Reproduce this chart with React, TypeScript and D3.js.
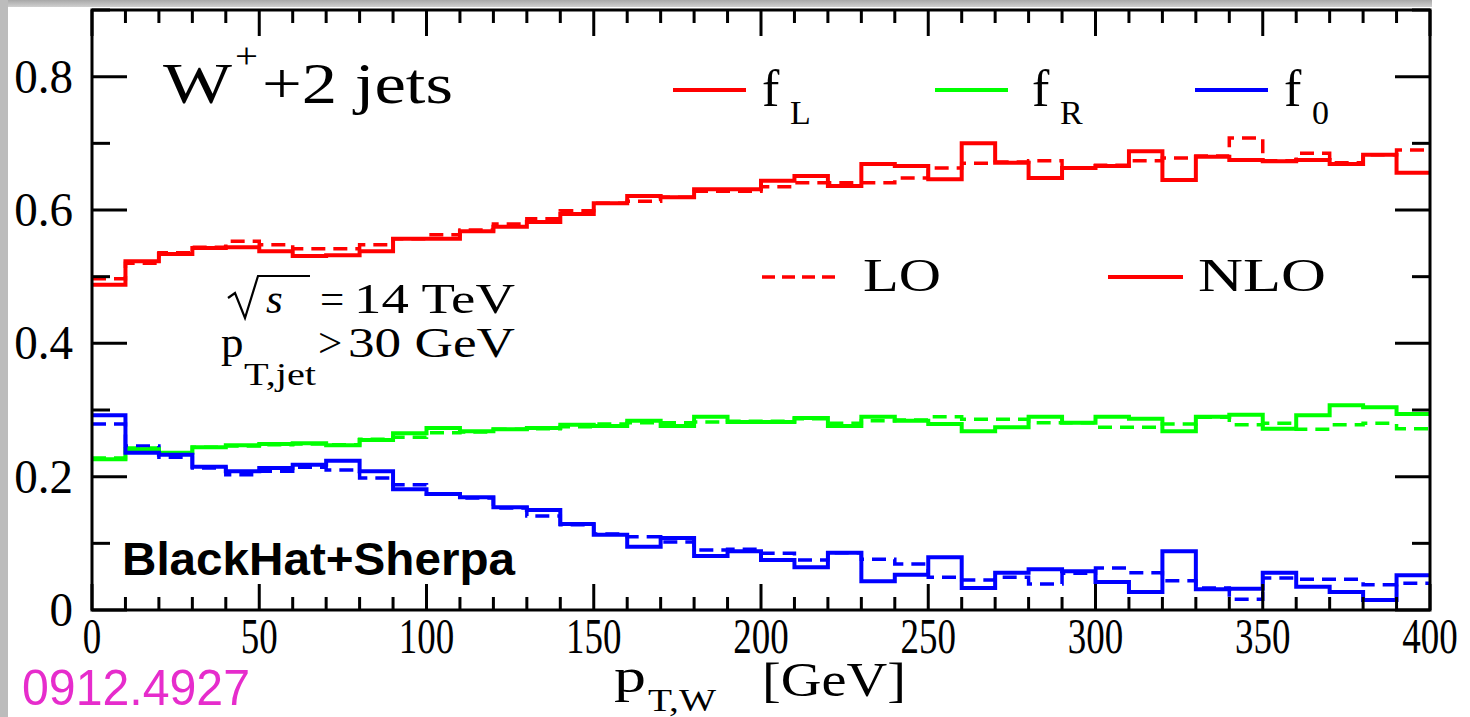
import React from 'react';
import * as d3 from 'd3';

// bin edges: 40 bins of 10 GeV
const binLow = d3.range(0, 400, 10);

const fL_NLO = [0.488, 0.523, 0.534, 0.543, 0.544, 0.538, 0.531, 0.532, 0.538, 0.557, 0.557, 0.568, 0.575, 0.582, 0.594, 0.610, 0.621, 0.619, 0.631, 0.631, 0.644, 0.651, 0.636, 0.669, 0.666, 0.646, 0.700, 0.671, 0.648, 0.663, 0.666, 0.688, 0.645, 0.680, 0.675, 0.673, 0.675, 0.669, 0.683, 0.656];
const fL_LO = [0.497, 0.520, 0.536, 0.544, 0.553, 0.548, 0.542, 0.542, 0.548, 0.557, 0.563, 0.570, 0.579, 0.587, 0.599, 0.610, 0.613, 0.619, 0.628, 0.628, 0.635, 0.641, 0.641, 0.641, 0.648, 0.663, 0.670, 0.672, 0.674, 0.663, 0.667, 0.674, 0.678, 0.681, 0.708, 0.674, 0.685, 0.671, 0.683, 0.690];
const fR_NLO = [0.226, 0.241, 0.236, 0.244, 0.247, 0.249, 0.250, 0.247, 0.255, 0.265, 0.273, 0.268, 0.271, 0.273, 0.278, 0.276, 0.284, 0.276, 0.290, 0.282, 0.282, 0.288, 0.276, 0.290, 0.284, 0.279, 0.268, 0.274, 0.290, 0.281, 0.290, 0.287, 0.268, 0.290, 0.293, 0.272, 0.292, 0.307, 0.304, 0.294];
const fR_LO = [0.228, 0.243, 0.236, 0.244, 0.246, 0.248, 0.249, 0.248, 0.256, 0.259, 0.266, 0.267, 0.271, 0.272, 0.275, 0.279, 0.281, 0.281, 0.282, 0.283, 0.283, 0.287, 0.280, 0.284, 0.285, 0.290, 0.286, 0.286, 0.281, 0.281, 0.274, 0.274, 0.279, 0.289, 0.278, 0.280, 0.271, 0.278, 0.280, 0.272];
const f0_NLO = [0.292, 0.236, 0.233, 0.215, 0.208, 0.213, 0.218, 0.224, 0.208, 0.181, 0.174, 0.169, 0.154, 0.150, 0.129, 0.113, 0.095, 0.108, 0.081, 0.088, 0.075, 0.064, 0.086, 0.043, 0.053, 0.079, 0.033, 0.056, 0.061, 0.058, 0.042, 0.027, 0.088, 0.031, 0.032, 0.056, 0.035, 0.027, 0.015, 0.052];
const f0_LO = [0.279, 0.246, 0.229, 0.213, 0.203, 0.208, 0.214, 0.210, 0.198, 0.188, 0.174, 0.168, 0.153, 0.141, 0.128, 0.114, 0.110, 0.102, 0.090, 0.091, 0.085, 0.075, 0.086, 0.076, 0.069, 0.049, 0.045, 0.049, 0.039, 0.055, 0.063, 0.056, 0.044, 0.033, 0.016, 0.048, 0.046, 0.046, 0.038, 0.040];

const xTickLabels = [0, 50, 100, 150, 200, 250, 300, 350, 400];
const yTickLabels = [0, 0.2, 0.4, 0.6, 0.8];

const RED = '#ff0000';
const GREEN = '#00ff00';
const BLUE = '#0000ff';
const SERIF = '"Liberation Serif", "DejaVu Serif", serif';
const SANS = '"Liberation Sans", Arial, sans-serif';

const W = 1470;
const H = 717;
const left = 92, right = 1430, top = 10, bottom = 610;

export default function App() {
  const x = d3.scaleLinear().domain([0, 400]).range([left, right]);
  const y = d3.scaleLinear().domain([0, 0.9]).range([bottom, top]);

  const line = d3
    .line<[number, number]>()
    .x((d) => x(d[0]))
    .y((d) => y(d[1]))
    .curve(d3.curveStepAfter);

  const hist = (vals: number[]) => {
    const pts: [number, number][] = vals.map((v, i) => [binLow[i], v]);
    pts.push([400, vals[vals.length - 1]]);
    return line(pts) || '';
  };

  const series = [
    { vals: fR_LO, color: GREEN, dash: true },
    { vals: f0_LO, color: BLUE, dash: true },
    { vals: fL_LO, color: RED, dash: true },
    { vals: fR_NLO, color: GREEN, dash: false },
    { vals: f0_NLO, color: BLUE, dash: false },
    { vals: fL_NLO, color: RED, dash: false },
  ];

  const legendTop = [
    { color: RED, lx: 673, fx: 762, sub: 'L' },
    { color: GREEN, lx: 935, fx: 1032, sub: 'R' },
    { color: BLUE, lx: 1195, fx: 1284, sub: '0' },
  ];

  const xMinor = d3.range(0, 401, 10);
  const yMinor = d3.range(0, 0.9001, 0.1);

  return (
    <svg
      width={W}
      height={H}
      style={{ position: 'absolute', left: 0, top: 0, background: '#fff' }}
    >
      <defs>
        <linearGradient id="topband" x1="0" y1="0" x2="0" y2="1">
          <stop offset="0" stopColor="#a8a8a8" />
          <stop offset="1" stopColor="#d0d0d0" />
        </linearGradient>
      </defs>
      <rect x={0} y={0} width={W} height={H} fill="#fff" />
      <rect x={0} y={0} width={1432} height={7} fill="url(#topband)" />
      <rect x={0} y={0} width={8} height={H} fill="#bcbcbc" />

      {/* histograms */}
      <g fill="none" strokeLinejoin="miter">
        {series.map((s, i) => (
          <path
            key={i}
            d={hist(s.vals)}
            stroke={s.color}
            strokeWidth={s.dash ? 3.5 : 4}
            strokeDasharray={s.dash ? '14 8' : undefined}
          />
        ))}
      </g>

      {/* frame and ticks */}
      <g stroke="#000" strokeWidth={3}>
        {xMinor.map((v) => {
          const major = v % 50 === 0;
          const len = major ? 26 : 13;
          return (
            <g key={'xt' + v}>
              <line x1={x(v)} x2={x(v)} y1={bottom} y2={bottom - len} />
              <line x1={x(v)} x2={x(v)} y1={top} y2={top + len} />
            </g>
          );
        })}
        {yMinor.map((v, i) => {
          const major = i % 2 === 0;
          const len = major ? 35 : 18;
          return (
            <g key={'yt' + i}>
              <line x1={left} x2={left + len} y1={y(v)} y2={y(v)} />
              <line x1={right} x2={right - len} y1={y(v)} y2={y(v)} />
            </g>
          );
        })}
        <rect x={left} y={top} width={right - left} height={bottom - top} fill="none" />
      </g>

      {/* tick labels */}
      <g fontFamily={SERIF} fill="#000">
        {xTickLabels.map((v) => (
          <text
            key={'xl' + v}
            transform={`translate(${x(v)},653) scale(0.74,1)`}
            textAnchor="middle"
            fontSize={50}
          >
            {v}
          </text>
        ))}
        {yTickLabels.map((v) => (
          <text
            key={'yl' + v}
            transform={`translate(73,${y(v) + 16}) scale(0.98,1)`}
            textAnchor="end"
            fontSize={48}
          >
            {v === 0 ? '0' : v.toFixed(1)}
          </text>
        ))}
      </g>

      {/* title */}
      <g fontFamily={SERIF} fill="#000">
        <text x={163} y={103} fontSize={57} textLength={69} lengthAdjust="spacingAndGlyphs">W</text>
        <text x={235} y={68} fontSize={36} textLength={23} lengthAdjust="spacingAndGlyphs">+</text>
        <text x={262} y={103} fontSize={57} textLength={191} lengthAdjust="spacingAndGlyphs">+2 jets</text>
      </g>

      {/* legend row 1 */}
      <g fontFamily={SERIF} fill="#000">
        {legendTop.map((l) => (
          <g key={l.sub}>
            <line x1={l.lx} x2={l.lx + 73} y1={90} y2={90} stroke={l.color} strokeWidth={4} />
            <text x={l.fx} y={106} fontSize={52}>f</text>
            <text x={l.fx + 28} y={124} fontSize={34}>{l.sub}</text>
          </g>
        ))}
      </g>

      {/* legend row 2 */}
      <g fontFamily={SERIF} fill="#000">
        <line x1={762} x2={835} y1={277} y2={277} stroke={RED} strokeWidth={3.5} strokeDasharray="13 7" />
        <text x={863} y={291} fontSize={46} textLength={78} lengthAdjust="spacingAndGlyphs">LO</text>
        <line x1={1108} x2={1183} y1={277} y2={277} stroke={RED} strokeWidth={4} />
        <text x={1198} y={291} fontSize={46} textLength={128} lengthAdjust="spacingAndGlyphs">NLO</text>
      </g>

      {/* annotations */}
      <g fontFamily={SERIF} fill="#000">
        <path d="M228 298 L235 293 L245 318 L258 276 L310 276" fill="none" stroke="#000" strokeWidth={2.2} />
        <text x={266} y={313} fontSize={43} fontStyle="italic">s</text>
        <text x={320} y={313} fontSize={43}>=</text>
        <text x={354} y={313} fontSize={43} textLength={161} lengthAdjust="spacingAndGlyphs">14 TeV</text>

        <text x={221} y={357} fontSize={45}>p</text>
        <text x={244} y={385} fontSize={31} textLength={72} lengthAdjust="spacingAndGlyphs">T,jet</text>
        <text x={318} y={357} fontSize={43}>&gt;</text>
        <text x={348} y={357} fontSize={43} textLength={167} lengthAdjust="spacingAndGlyphs">30 GeV</text>
      </g>

      <text
        x={122}
        y={575}
        fontFamily={SANS}
        fontWeight="bold"
        fontSize={46}
        textLength={393}
        lengthAdjust="spacingAndGlyphs"
        fill="#000"
      >
        BlackHat+Sherpa
      </text>

      {/* x axis title */}
      <g fontFamily={SERIF} fill="#000">
        <text x={614} y={692} fontSize={48} textLength={32} lengthAdjust="spacingAndGlyphs">p</text>
        <text x={648} y={711} fontSize={32} textLength={68} lengthAdjust="spacingAndGlyphs">T,W</text>
        <text x={762} y={696} fontSize={48} textLength={144} lengthAdjust="spacingAndGlyphs">[GeV]</text>
      </g>

      <text
        x={22}
        y={705}
        fontFamily={SANS}
        fontSize={50}
        textLength={228}
        lengthAdjust="spacingAndGlyphs"
        fill="#e62ccc"
      >
        0912.4927
      </text>
    </svg>
  );
}
